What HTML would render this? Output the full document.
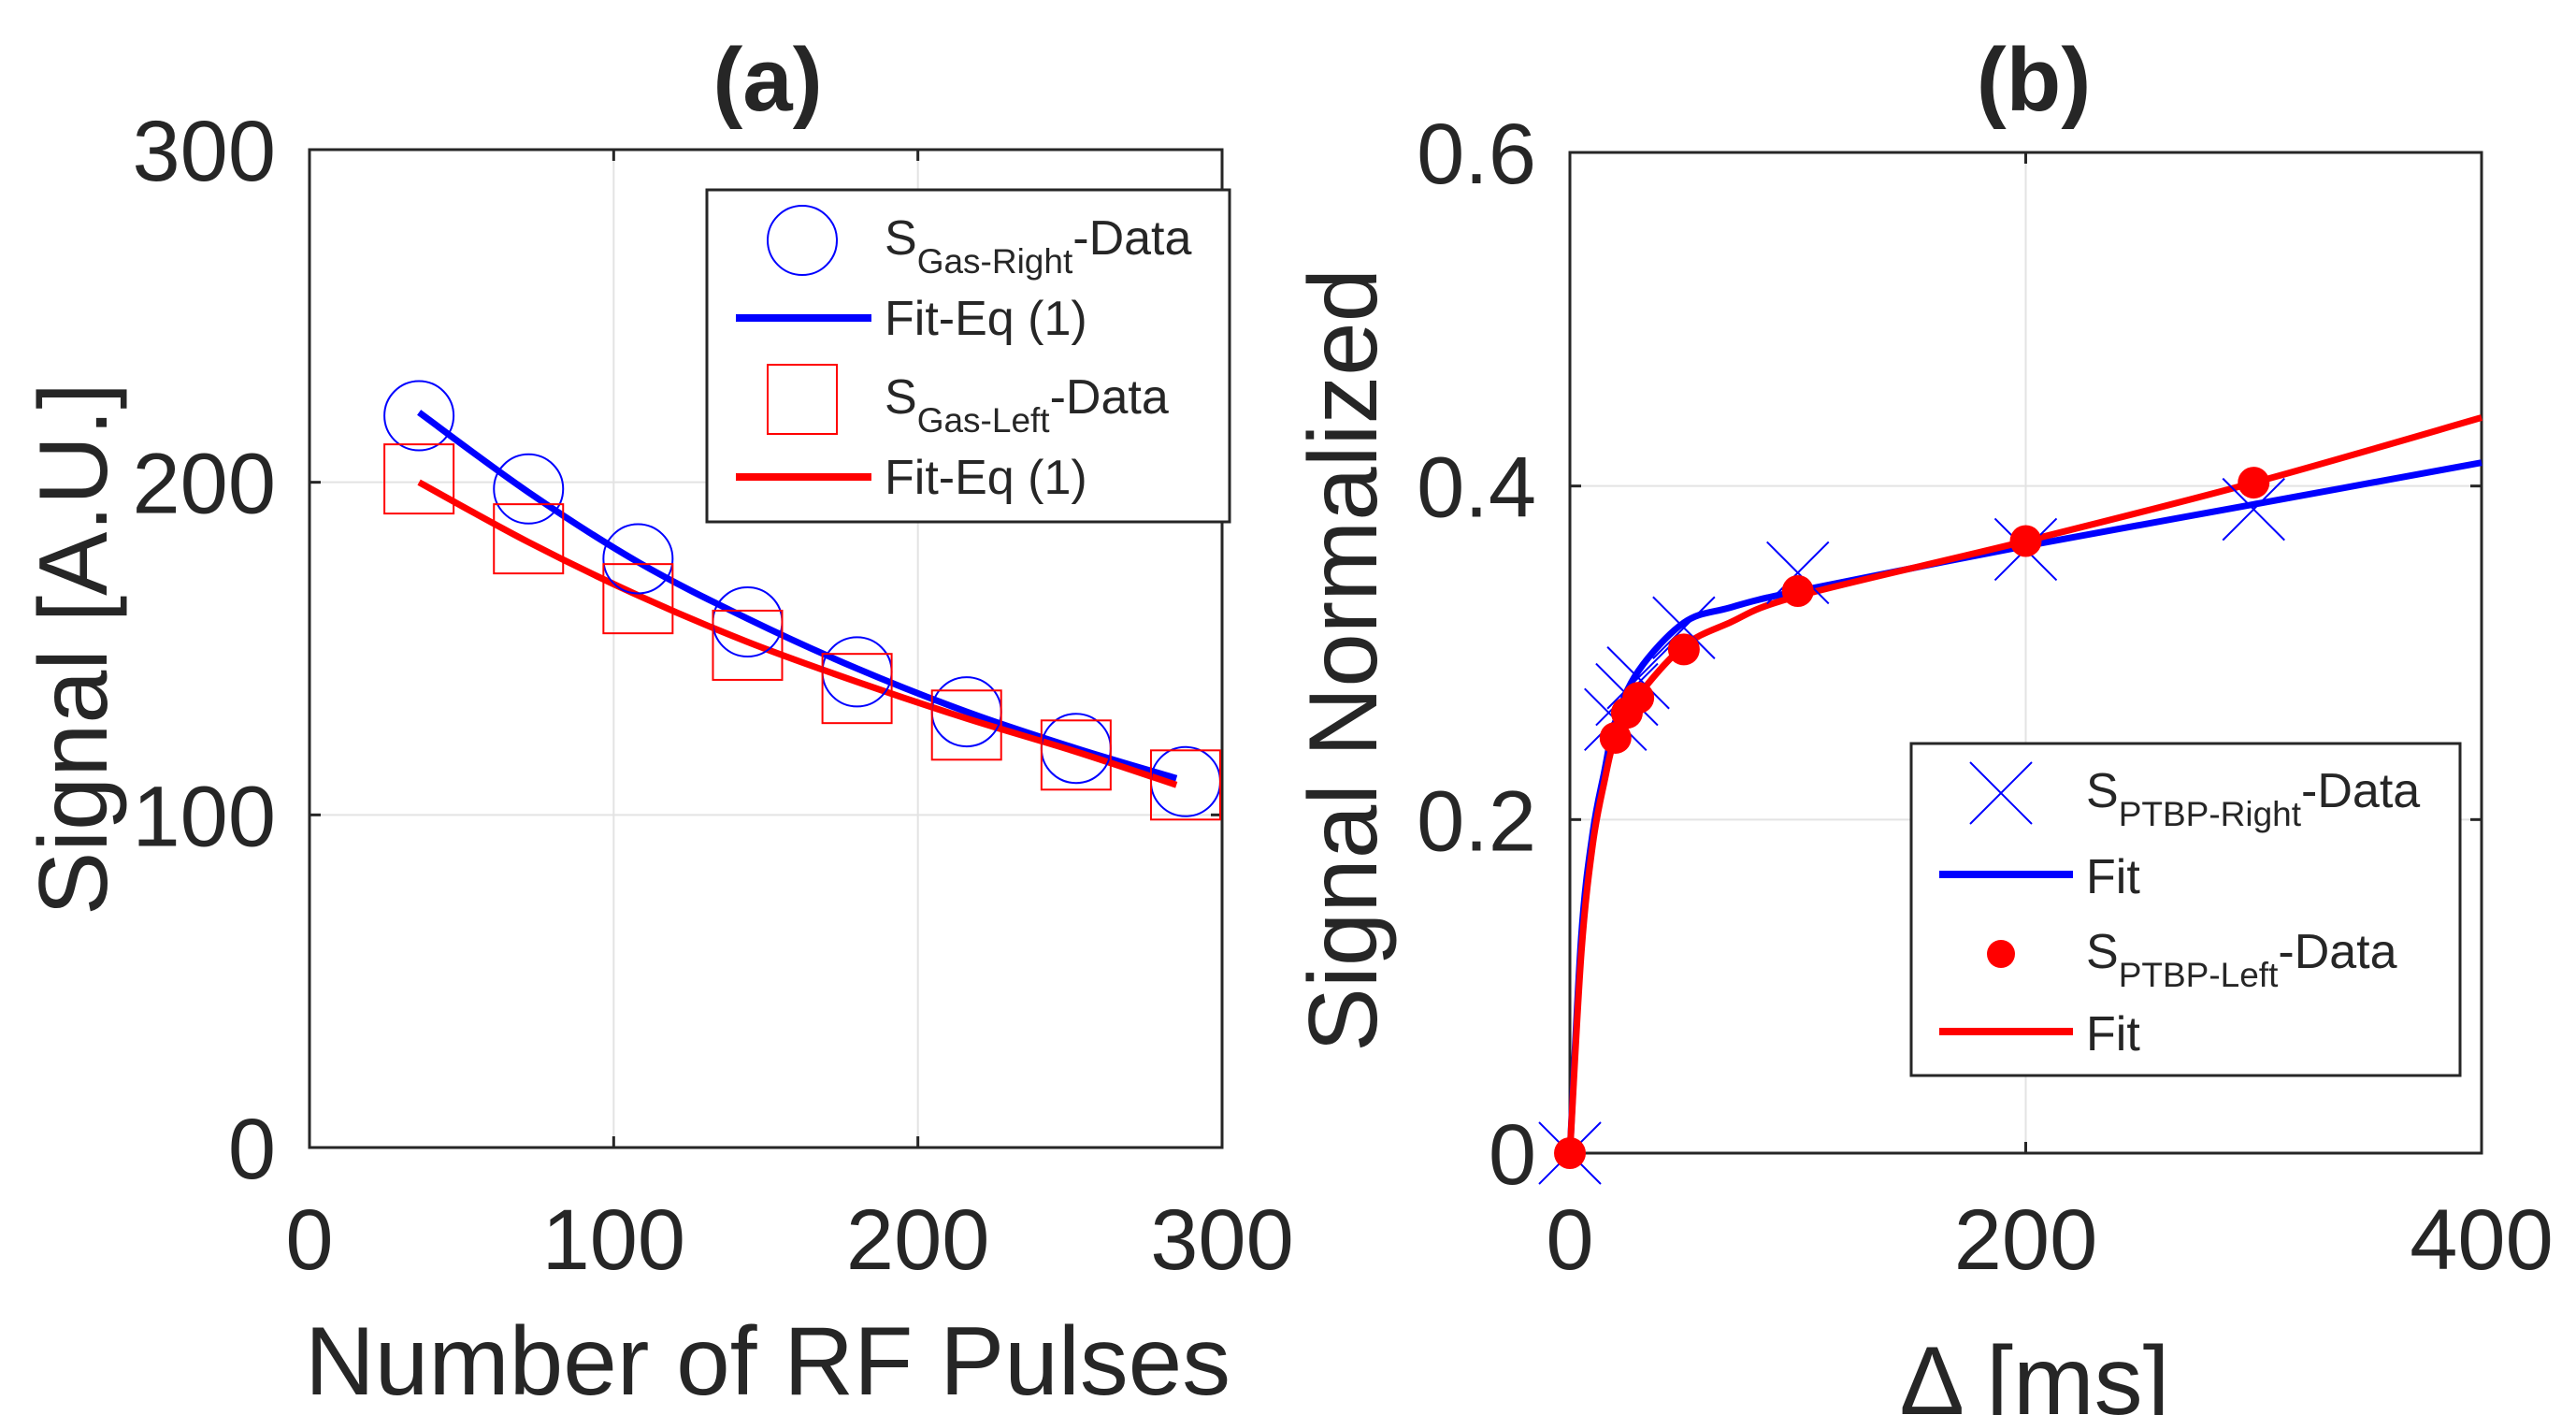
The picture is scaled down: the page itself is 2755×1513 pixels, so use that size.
<!DOCTYPE html>
<html>
<head>
<meta charset="utf-8">
<style>
html,body{margin:0;padding:0;background:#fff;}
svg{display:block;}
text{font-family:"Liberation Sans",Arial,sans-serif;fill:#262626;}
</style>
</head>
<body>
<svg id="fig" width="2755" height="1513" viewBox="0 0 2755 1513" xmlns="http://www.w3.org/2000/svg">
  <rect x="0" y="0" width="2755" height="1513" fill="#fff"/>
  <g id="panelA"></g>
  <g id="panelB"></g>
</svg>
<script>
// ---------- Panel (a) data ----------
const aPulses = [36, 72, 108, 144, 180, 216, 252, 288];
const aRightData = [220, 198, 177, 158, 143, 131, 120, 110];
const aLeftData = [201, 183, 165, 151, 138, 127, 118, 109];
const aFitX = [36, 72, 108, 144, 180, 216, 252, 285];
const aRightFit = [221, 197, 176, 159, 144, 131, 120, 111];
const aRightFitLabel = "Fit-Eq (1)";
const aLeftFit = [200, 182, 166, 152, 140, 129, 119, 109];
const aXTicks = [0, 100, 200, 300];
const aYTicks = [0, 100, 200, 300];

// ---------- Panel (b) data ----------
const bDelta = [0, 20, 25, 30, 50, 100, 200, 300];
const bRightData = [0, 0.26, 0.275, 0.285, 0.315, 0.348, 0.362, 0.386];
const bLeftData = [0, 0.249, 0.264, 0.273, 0.302, 0.337, 0.367, 0.402];
const bFitX = [0, 5, 10, 15, 20, 30, 50, 70, 100, 200, 300, 400];
const bRightFit = [0, 0.13, 0.192, 0.228, 0.259, 0.289, 0.318, 0.327, 0.337, 0.364, 0.389, 0.414];
const bLeftFit = [0, 0.12, 0.185, 0.222, 0.249, 0.274, 0.304, 0.318, 0.334, 0.367, 0.402, 0.441];
const bXTicks = [0, 200, 400];
const bYTicks = [0, 0.2, 0.4, 0.6];
const bYTickLabels = ["0", "0.2", "0.4", "0.6"];

const NS = "http://www.w3.org/2000/svg";
function mk(tag, attrs, parent) {
  const e = document.createElementNS(NS, tag);
  for (const k in attrs) e.setAttribute(k, attrs[k]);
  parent.appendChild(e);
  return e;
}
function linScale(d0, d1, r0, r1) { return v => r0 + (v - d0) / (d1 - d0) * (r1 - r0); }
function smoothPath(pts) {
  let d = "M" + pts[0][0] + "," + pts[0][1];
  for (let i = 0; i < pts.length - 1; i++) {
    const p0 = pts[Math.max(0, i - 1)], p1 = pts[i], p2 = pts[i + 1], p3 = pts[Math.min(pts.length - 1, i + 2)];
    const c1x = p1[0] + (p2[0] - p0[0]) / 6, c1y = p1[1] + (p2[1] - p0[1]) / 6;
    const c2x = p2[0] - (p3[0] - p1[0]) / 6, c2y = p2[1] - (p3[1] - p1[1]) / 6;
    d += " C" + c1x + "," + c1y + " " + c2x + "," + c2y + " " + p2[0] + "," + p2[1];
  }
  return d;
}
function drawAxes(g, L, R, T, B, sx, sy, xt, yt, ytl, xGrid, yGrid) {
  const grid = mk("g", {}, g);
  
  
  xGrid.forEach(v => mk("line", {x1: sx(v), x2: sx(v), y1: T, y2: B, stroke: "#e3e3e3", "stroke-width": 2}, grid));
  yGrid.forEach(v => mk("line", {x1: L, x2: R, y1: sy(v), y2: sy(v), stroke: "#e3e3e3", "stroke-width": 2}, grid));
  const ax = mk("g", {}, g);
  
  
  mk("rect", {x: L, y: T, width: R - L, height: B - T, fill: "none", stroke: "#262626", "stroke-width": 3}, ax);
  xt.forEach(v => {
    mk("line", {x1: sx(v), x2: sx(v), y1: B, y2: B - 12, stroke: "#262626", "stroke-width": 3}, ax);
    mk("line", {x1: sx(v), x2: sx(v), y1: T, y2: T + 12, stroke: "#262626", "stroke-width": 3}, ax);
    const t = mk("text", {x: sx(v), y: 1357, "font-size": 92, "text-anchor": "middle"}, ax);
    
    
    t.textContent = String(v);
  });
  yt.forEach((v, i) => {
    mk("line", {x1: L, x2: L + 12, y1: sy(v), y2: sy(v), stroke: "#262626", "stroke-width": 3}, ax);
    mk("line", {x1: R, x2: R - 12, y1: sy(v), y2: sy(v), stroke: "#262626", "stroke-width": 3}, ax);
    const t = mk("text", {x: L - 36, y: sy(v) + 33, "font-size": 92, "text-anchor": "end"}, ax);
    
    
    t.textContent = ytl ? ytl[i] : String(v);
  });
}
function legendText(g, x, y, main, sub, tail) {
  const t = mk("text", {x: x, y: y, "font-size": 52}, g);
  
  
  const a = mk("tspan", {}, t); a.textContent = main;
  if (sub) {
    const s = mk("tspan", {"font-size": 37, dy: 20}, t); s.textContent = sub;
    const b = mk("tspan", {dy: -20}, t); b.textContent = tail;
  }
}

// ---------- Panel (a) ----------
(function () {
  const g = document.getElementById("panelA");
  const L = 331, R = 1307, T = 160, B = 1227;
  const sx = linScale(0, 300, L, R), sy = linScale(0, 300, B, T);
  drawAxes(g, L, R, T, B, sx, sy, aXTicks, aYTicks, null, [100, 200], [100, 200]);

  const title = mk("text", {x: 821, y: 118, "font-size": 96, "font-weight": "bold", "text-anchor": "middle"}, g);
  
  
  title.textContent = "(a)";
  const xl = mk("text", {x: 821, y: 1491, "font-size": 104, "text-anchor": "middle", textLength: 990, lengthAdjust: "spacingAndGlyphs"}, g);
  
  
  xl.textContent = "Number of RF Pulses";
  const yl = mk("text", {x: 0, y: 0, "font-size": 104, "text-anchor": "middle", transform: "translate(114,694) rotate(-90)", textLength: 570, lengthAdjust: "spacingAndGlyphs"}, g);
  
  
  yl.textContent = "Signal [A.U.]";

  const pr = mk("path", {d: smoothPath(aFitX.map((x, i) => [sx(x), sy(aRightFit[i])])), fill: "none", stroke: "#0000ff", "stroke-width": 7}, g);
  
  
  const pl = mk("path", {d: smoothPath(aFitX.map((x, i) => [sx(x), sy(aLeftFit[i])])), fill: "none", stroke: "#ff0000", "stroke-width": 7}, g);
  
  

  aPulses.forEach((x, i) => {
    const c = mk("circle", {cx: sx(x), cy: sy(aRightData[i]), r: 37, fill: "none", stroke: "#0000ff", "stroke-width": 2}, g);
    
    
    const s = mk("rect", {x: sx(x) - 37, y: sy(aLeftData[i]) - 37, width: 74, height: 74, fill: "none", stroke: "#ff0000", "stroke-width": 2}, g);
    
    
  });

  const lg = mk("g", {}, g);
  
  
  mk("rect", {x: 756, y: 203, width: 559, height: 355, fill: "#fff", stroke: "#262626", "stroke-width": 3}, lg);
  mk("circle", {cx: 858, cy: 257, r: 37, fill: "none", stroke: "#0000ff", "stroke-width": 2}, lg);
  legendText(lg, 946, 272, "S", "Gas-Right", "-Data");
  mk("line", {x1: 787, x2: 932, y1: 340, y2: 340, stroke: "#0000ff", "stroke-width": 8}, lg);
  legendText(lg, 946, 358, aRightFitLabel);
  mk("rect", {x: 821, y: 390, width: 74, height: 74, fill: "none", stroke: "#ff0000", "stroke-width": 2}, lg);
  legendText(lg, 946, 442, "S", "Gas-Left", "-Data");
  mk("line", {x1: 787, x2: 932, y1: 510, y2: 510, stroke: "#ff0000", "stroke-width": 8}, lg);
  legendText(lg, 946, 528, "Fit-Eq (1)");
})();

// ---------- Panel (b) ----------
(function () {
  const g = document.getElementById("panelB");
  const L = 1679, R = 2654, T = 163, B = 1233;
  const sx = linScale(0, 400, L, R), sy = linScale(0, 0.6, B, T);
  drawAxes(g, L, R, T, B, sx, sy, bXTicks, bYTicks, bYTickLabels, [200], [0.2, 0.4]);

  const title = mk("text", {x: 2175, y: 118, "font-size": 96, "font-weight": "bold", "text-anchor": "middle"}, g);
  
  
  title.textContent = "(b)";
  const xl = mk("text", {x: 2176, y: 1512, "font-size": 104, "text-anchor": "middle"}, g);
  
  
  xl.textContent = "Δ [ms]";
  const yl = mk("text", {x: 0, y: 0, "font-size": 104, "text-anchor": "middle", transform: "translate(1472,706) rotate(-90)", textLength: 838, lengthAdjust: "spacingAndGlyphs"}, g);
  
  
  yl.textContent = "Signal Normalized";

  const pr = mk("path", {d: smoothPath(bFitX.map((x, i) => [sx(x), sy(bRightFit[i])])), fill: "none", stroke: "#0000ff", "stroke-width": 7}, g);
  
  
  const pl = mk("path", {d: smoothPath(bFitX.map((x, i) => [sx(x), sy(bLeftFit[i])])), fill: "none", stroke: "#ff0000", "stroke-width": 7}, g);
  
  

  const h = 33;
  bDelta.forEach((x, i) => {
    const cx = sx(x), cy = sy(bRightData[i]);
    const c = mk("path", {d: `M${cx - h},${cy - h} L${cx + h},${cy + h} M${cx - h},${cy + h} L${cx + h},${cy - h}`, stroke: "#0000ff", "stroke-width": 2, fill: "none"}, g);
    
    
  });
  bDelta.forEach((x, i) => {
    const d = mk("circle", {cx: sx(x), cy: sy(bLeftData[i]), r: 17, fill: "#ff0000"}, g);
    
    
  });

  const lg = mk("g", {}, g);
  
  
  mk("rect", {x: 2044, y: 795, width: 587, height: 355, fill: "#fff", stroke: "#262626", "stroke-width": 3}, lg);
  mk("path", {d: `M${2140 - h},${848 - h} L${2140 + h},${848 + h} M${2140 - h},${848 + h} L${2140 + h},${848 - h}`, stroke: "#0000ff", "stroke-width": 2, fill: "none"}, lg);
  legendText(lg, 2231, 863, "S", "PTBP-Right", "-Data");
  mk("line", {x1: 2074, x2: 2217, y1: 935, y2: 935, stroke: "#0000ff", "stroke-width": 8}, lg);
  legendText(lg, 2231, 955, "Fit");
  mk("circle", {cx: 2140, cy: 1020, r: 15, fill: "#ff0000"}, lg);
  legendText(lg, 2231, 1035, "S", "PTBP-Left", "-Data");
  mk("line", {x1: 2074, x2: 2217, y1: 1103, y2: 1103, stroke: "#ff0000", "stroke-width": 8}, lg);
  legendText(lg, 2231, 1123, "Fit");
})();
</script>
</body>
</html>
